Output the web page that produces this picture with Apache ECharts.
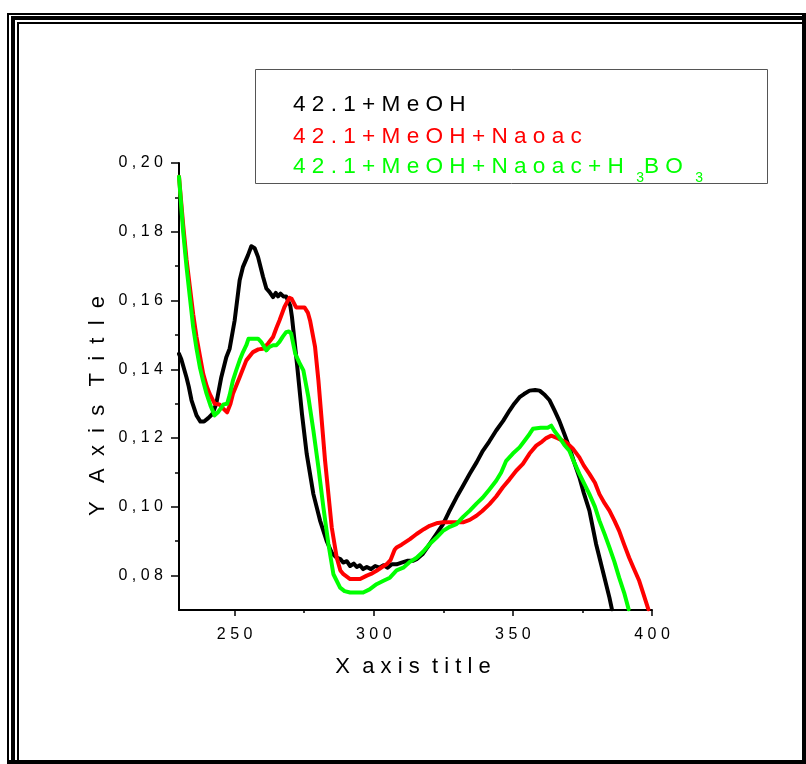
<!DOCTYPE html>
<html><head><meta charset="utf-8">
<script src="https://cdn.jsdelivr.net/npm/echarts@6/dist/echarts.min.js"></script>
<style>html,body{margin:0;padding:0;background:#fff}#c{width:806px;height:764px}</style>
</head><body><div id="c"></div>
<script>
// ---------- DATA ----------
const seriesNames = ['42.1+MeOH', '42.1+MeOH+Naoac', '42.1+MeOH+Naoac+H3BO3'];
const legendLabels = ['42.1+MeOH', '42.1+MeOH+Naoac', '42.1+MeOH+Naoac+H_3BO_3'];
const seriesColors = ['#000000', '#ff0000', '#00ff00'];

const xBlack = [230.0,230.8,232.7,233.5,234.5,236.3,237.7,239.0,240.5,242.0,243.4,245.2,247.0,248.2,250.0,251.8,253.0,254.8,256.0,257.2,258.4,260.2,261.4,262.5,263.8,264.8,265.6,266.5,267.5,268.5,270.0,270.6,272.4,274.2,275.9,278.3,280.7,283.1,285.0,286.7,288.0,289.0,290.3,291.5,292.8,293.9,295.0,296.2,297.5,299.0,300.5,302.0,303.5,305.0,306.5,308.2,310.0,312.0,314.0,315.4,317.5,320.1,322.5,324.9,327.0,329.7,332.0,334.5,337.0,339.2,341.5,344.0,346.5,348.8,350.5,352.4,354.0,356.0,358.0,359.6,361.5,363.2,365.0,366.7,368.5,370.3,372.0,373.9,375.5,377.5,379.9,382.3,384.7,385.6];
const yBlack = [0.1445,0.1430,0.1376,0.1350,0.1310,0.1266,0.1248,0.1248,0.1258,0.1270,0.1300,0.1377,0.1435,0.1460,0.1542,0.1659,0.1698,0.1732,0.1758,0.1752,0.1727,0.1669,0.1635,0.1625,0.1610,0.1622,0.1612,0.1620,0.1612,0.1612,0.1585,0.1552,0.1416,0.1270,0.1154,0.1037,0.0960,0.0900,0.0865,0.0852,0.0848,0.0838,0.0842,0.0828,0.0835,0.0825,0.0830,0.0819,0.0825,0.0819,0.0828,0.0823,0.0830,0.0823,0.0833,0.0833,0.0838,0.0843,0.0843,0.0848,0.0862,0.0892,0.0921,0.0950,0.0985,0.1027,0.1060,0.1096,0.1130,0.1163,0.1190,0.1222,0.1250,0.1280,0.1300,0.1319,0.1328,0.1338,0.1340,0.1338,0.1325,0.1310,0.1280,0.1250,0.1212,0.1173,0.1130,0.1086,0.1040,0.0989,0.0892,0.0814,0.0736,0.0702];

const xRed = [230.0,231.5,232.7,233.9,235.1,236.3,237.5,238.7,240.0,241.0,242.8,244.5,246.0,247.3,248.5,249.4,251.8,254.2,256.6,258.5,260.2,262.0,263.8,265.0,266.1,267.9,269.7,270.5,272.1,275.1,276.3,277.1,278.9,280.1,281.3,282.5,283.7,284.9,286.7,288.0,289.1,291.5,295.1,297.5,299.0,301.0,303.0,304.6,306.0,307.5,308.2,310.0,313.0,315.4,318.0,320.1,322.5,324.9,328.0,332.1,334.5,336.9,339.0,341.6,344.0,346.4,348.8,351.2,353.6,356.0,358.4,360.5,362.0,363.8,366.0,369.1,371.5,373.9,375.5,377.5,379.5,381.1,383.0,384.7,386.5,388.2,390.0,391.8,393.5,395.4,397.0,398.7];
const yRed = [0.1960,0.1820,0.1720,0.1640,0.1560,0.1494,0.1440,0.1387,0.1350,0.1329,0.1300,0.1298,0.1285,0.1275,0.1300,0.1329,0.1377,0.1426,0.1450,0.1458,0.1460,0.1475,0.1494,0.1520,0.1542,0.1581,0.1608,0.1605,0.1580,0.1580,0.1565,0.1542,0.1465,0.1368,0.1251,0.1134,0.1037,0.0940,0.0852,0.0815,0.0804,0.0790,0.0790,0.0800,0.0805,0.0814,0.0825,0.0833,0.0845,0.0875,0.0882,0.0890,0.0906,0.0921,0.0935,0.0945,0.0952,0.0955,0.0955,0.0955,0.0962,0.0974,0.0988,0.1008,0.1030,0.1057,0.1080,0.1105,0.1125,0.1155,0.1178,0.1190,0.1200,0.1207,0.1200,0.1188,0.1170,0.1144,0.1120,0.1096,0.1070,0.1037,0.1010,0.0989,0.0960,0.0930,0.0890,0.0852,0.0820,0.0785,0.0745,0.0702];

const xGreen = [230.0,231.5,232.7,233.9,235.1,236.3,237.5,238.7,239.9,241.3,242.8,244.0,244.9,246.0,247.3,248.2,249.4,250.6,251.8,253.0,254.2,255.0,256.0,257.5,258.4,259.5,261.4,262.5,263.8,265.0,266.1,267.3,268.5,269.5,270.3,271.8,273.2,274.7,276.5,278.3,280.1,281.9,283.7,285.5,287.9,289.5,291.5,296.2,298.5,301.0,303.5,305.8,308.2,310.6,313.0,315.4,317.8,320.1,322.5,324.9,327.3,329.7,332.0,334.5,337.0,339.2,341.5,344.0,345.8,347.6,350.0,352.4,354.0,356.0,357.2,360.0,362.5,363.8,365.0,366.7,368.5,370.3,372.0,373.9,375.5,377.5,379.5,381.1,383.0,384.7,386.5,388.2,390.0,391.6];
const yGreen = [0.1960,0.1800,0.1698,0.1610,0.1523,0.1460,0.1406,0.1365,0.1329,0.1295,0.1266,0.1275,0.1285,0.1298,0.1300,0.1325,0.1368,0.1398,0.1426,0.1450,0.1470,0.1489,0.1489,0.1489,0.1489,0.1480,0.1455,0.1465,0.1470,0.1470,0.1480,0.1495,0.1508,0.1510,0.1504,0.1445,0.1420,0.1397,0.1319,0.1222,0.1115,0.0998,0.0892,0.0804,0.0765,0.0755,0.0751,0.0751,0.0760,0.0775,0.0785,0.0794,0.0815,0.0823,0.0840,0.0852,0.0870,0.0892,0.0910,0.0930,0.0942,0.0950,0.0970,0.0989,0.1010,0.1027,0.1050,0.1076,0.1100,0.1134,0.1155,0.1173,0.1190,0.1212,0.1227,0.1230,0.1230,0.1236,0.1220,0.1202,0.1180,0.1163,0.1130,0.1096,0.1070,0.1037,0.1000,0.0960,0.0920,0.0882,0.0840,0.0794,0.0750,0.0702];

const xMajorTicks = [250, 300, 350, 400];
const xMinorTicks = [275, 325, 375];
const yMajorTicks = [0.08, 0.10, 0.12, 0.14, 0.16, 0.18, 0.20];
const yMinorTicks = [0.09, 0.11, 0.13, 0.15, 0.17, 0.19];
const xAxisTitle = 'X axis title';
const yAxisTitle = 'Y Axis Title';

// ---------- CHART ----------
const FONT = '"Liberation Sans", Arial, Helvetica, sans-serif';
const spaceOut = (s, sep) => s.split('').join(sep);

function buildRich(label, k) {
  let out = '';
  let i = 0;
  while (i < label.length) {
    const c = label[i];
    if (c === '_') { out += '{s' + k + '|' + label[i + 1] + '}'; i += 2; continue; }
    const last = (i === label.length - 1);
    out += '{n' + k + '|' + c + (last ? '' : ' ') + '}';
    i++;
  }
  return out;
}

const chart = echarts.init(document.getElementById('c'), null, {renderer: 'canvas'});
const grid = {left: 179, top: 163, width: 473, height: 447};

const xBase = {type: 'value', min: 230, max: 400, gridIndex: 0, position: 'bottom', splitLine: {show: false}};
const yBase = {type: 'value', min: 0.07, max: 0.20, gridIndex: 0, position: 'left', splitLine: {show: false}};

const xAxes = [
  Object.assign({}, xBase, {
    axisLine: {show: true, onZero: false, lineStyle: {color: '#000', width: 2}},
    axisTick: {show: true, customValues: xMajorTicks, length: 6, lineStyle: {color: '#000', width: 1.5}},
    axisLabel: {show: true, customValues: xMajorTicks, margin: 17, color: '#000', fontSize: 16, fontFamily: FONT,
      formatter: v => spaceOut(String(v), ' ')}
  }),
  Object.assign({}, xBase, {
    axisLine: {show: false, onZero: false},
    axisTick: {show: true, customValues: xMinorTicks, length: 3, lineStyle: {color: '#000', width: 1.5}},
    axisLabel: {show: false}
  })
];
const yAxes = [
  Object.assign({}, yBase, {
    axisLine: {show: true, onZero: false, lineStyle: {color: '#000', width: 2}},
    axisTick: {show: true, customValues: yMajorTicks, length: 8, lineStyle: {color: '#000', width: 1.5}},
    axisLabel: {show: true, customValues: yMajorTicks, margin: 16, color: '#000', fontSize: 16, fontFamily: FONT,
      formatter: v => spaceOut(Number(v).toFixed(2).replace('.', ','), ' ')}
  }),
  Object.assign({}, yBase, {
    axisLine: {show: false, onZero: false},
    axisTick: {show: true, customValues: yMinorTicks, length: 4, lineStyle: {color: '#000', width: 1.5}},
    axisLabel: {show: false}
  })
];

const xs = [xBlack, xRed, xGreen];
const ys = [yBlack, yRed, yGreen];
const series = seriesNames.map((name, k) => ({
  name: name, type: 'line', xAxisIndex: 0, yAxisIndex: 0,
  data: xs[k].map((x, i) => [x, ys[k][i]]),
  showSymbol: false, symbol: 'none', smooth: false, z: 2 + k,
  lineStyle: {color: seriesColors[k], width: 4, join: 'round', cap: 'round'},
  itemStyle: {color: seriesColors[k]}
}));

// legend graphic
const rich = {};
seriesColors.forEach((col, k) => {
  rich['n' + k] = {fill: col, fontSize: 22.6, fontFamily: FONT, lineHeight: 26, verticalAlign: 'top'};
  rich['s' + k] = {fill: col, fontSize: 14, fontFamily: FONT, lineHeight: 14, padding: [16, 0, 0, 6], verticalAlign: 'top'};
});
const legendTops = [93, 125, 155];
const legendGraphics = legendLabels.map((lab, k) => ({
  type: 'text', x: 293, y: legendTops[k], z: 100,
  style: {text: buildRich(lab, k), rich: rich, align: 'left', verticalAlign: 'top', fill: seriesColors[k], fontSize: 22.6, fontFamily: FONT}
}));

const frame = [
  [7, 13, 799, 2], [7, 13, 2, 751],
  [11, 16, 795, 4], [11, 16, 4, 748],
  [17, 22, 789, 2], [17, 22, 2, 742],
  [802, 13, 4, 751], [7, 760, 799, 4]
].map(r => ({type: 'rect', shape: {x: r[0], y: r[1], width: r[2], height: r[3]}, style: {fill: '#000'}, z: 100}));

const option = {
  animation: false,
  backgroundColor: '#ffffff',
  grid: grid,
  xAxis: xAxes,
  yAxis: yAxes,
  series: series,
  graphic: [
    ...frame,
    {type: 'rect', shape: {x: 255.5, y: 69.5, width: 512, height: 114}, style: {fill: 'none', stroke: '#555', lineWidth: 1}, z: 99},
    ...legendGraphics,
    {type: 'text', x: 413, y: 667, z: 100, style: {text: 'X  a x i s  t i t l e', fontSize: 22, fontFamily: FONT, fill: '#000', align: 'center', verticalAlign: 'middle'}},
    {type: 'text', x: 98, y: 406, rotation: Math.PI / 2, z: 100, style: {text: 'Y   A  x  i  s   T  i  t  l  e', fontSize: 22, fontFamily: FONT, fill: '#000', align: 'center', verticalAlign: 'middle'}}
  ]
};
chart.setOption(option);
</script>
</body></html>
